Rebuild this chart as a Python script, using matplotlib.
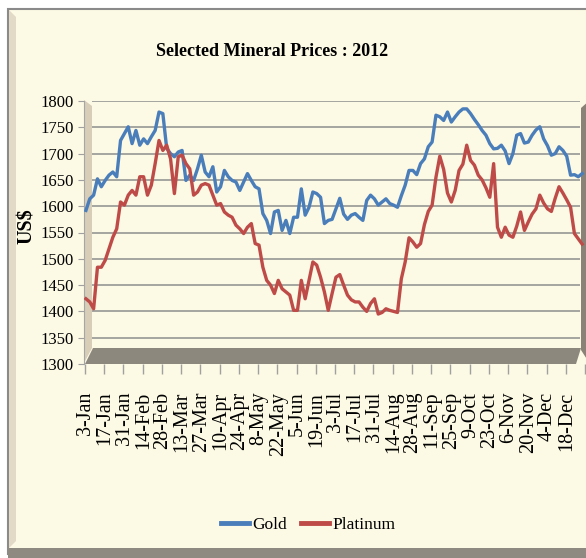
import numpy as np
import matplotlib
matplotlib.use("Agg")
import matplotlib.pyplot as plt
from matplotlib.patches import Polygon, Rectangle
from matplotlib.lines import Line2D

# trading-day index counted from 3-Jan-2012 (weekdays), sampled every 2nd day
day = np.arange(0, 260, 2)

gold = [1592, 1614, 1621, 1652, 1637, 1649, 1659, 1665, 1656, 1725,
        1738, 1751, 1719, 1744, 1716, 1728, 1719, 1732, 1744, 1779,
        1776, 1710, 1700, 1694, 1703, 1706, 1649, 1659, 1649, 1671,
        1697, 1665, 1656, 1675, 1627, 1637, 1668, 1656, 1649, 1646,
        1630, 1646, 1662, 1649, 1637, 1633, 1586, 1573, 1548, 1589,
        1592, 1554, 1573, 1548, 1579, 1579, 1633, 1583, 1598, 1627,
        1624, 1617, 1567, 1573, 1575, 1595, 1615, 1585, 1575, 1583,
        1586, 1579, 1573, 1611, 1621, 1614, 1602, 1608, 1614, 1605,
        1602, 1598, 1620, 1640, 1668, 1668, 1660, 1681, 1690, 1713,
        1722, 1773, 1770, 1763, 1779, 1760, 1770, 1779, 1785, 1785,
        1776, 1765, 1755, 1744, 1735, 1719, 1709, 1710, 1716, 1705,
        1681, 1700, 1735, 1738, 1720, 1722, 1735, 1745, 1751, 1728,
        1715, 1697, 1700, 1713, 1706, 1695, 1659, 1660, 1656, 1662]

platinum = [1424, 1418, 1405, 1484, 1484, 1497, 1519, 1541, 1557, 1608,
            1602, 1621, 1630, 1621, 1656, 1656, 1621, 1640, 1681, 1725,
            1706, 1716, 1690, 1624, 1694, 1697, 1681, 1671, 1621, 1627,
            1640, 1643, 1640, 1621, 1602, 1605, 1589, 1583, 1579, 1564,
            1557, 1548, 1560, 1567, 1529, 1526, 1484, 1459, 1450, 1434,
            1459, 1443, 1437, 1431, 1402, 1402, 1459, 1424, 1459, 1494,
            1488, 1465, 1437, 1402, 1434, 1465, 1470, 1450, 1431, 1422,
            1418, 1418, 1408, 1400, 1415, 1424, 1395, 1398, 1405, 1402,
            1400, 1398, 1462, 1494, 1540, 1532, 1522, 1529, 1565, 1590,
            1602, 1655, 1695, 1670, 1625, 1608, 1630, 1668, 1680, 1716,
            1687, 1678, 1659, 1650, 1635, 1617, 1681, 1560, 1541, 1560,
            1545, 1541, 1562, 1589, 1554, 1570, 1585, 1595, 1621, 1606,
            1595, 1590, 1615, 1637, 1625, 1612, 1598, 1548, 1538, 1528]

date_labels = ["3-Jan", "17-Jan", "31-Jan", "14-Feb", "28-Feb", "13-Mar",
               "27-Mar", "10-Apr", "24-Apr", "8-May", "22-May", "5-Jun",
               "19-Jun", "3-Jul", "17-Jul", "31-Jul", "14-Aug", "28-Aug",
               "11-Sep", "25-Sep", "9-Oct", "23-Oct", "6-Nov", "20-Nov",
               "4-Dec", "18-Dec"]

SERIF = "Liberation Serif"
BLUE = "#4A7EBB"
RED = "#BE4B48"
CREAM = "#FCF9E4"

W, H = 586, 558
fig = plt.figure(figsize=(W / 100, H / 100), dpi=100)
fig.patch.set_facecolor("white")

# background layer in pixel units: chart frame, 3-D walls and floor
bg = fig.add_axes([0, 0, 1, 1])
bg.set_xlim(0, W)
bg.set_ylim(H, 0)
bg.axis("off")
bg.add_patch(Rectangle((8, 9), 600, 545, facecolor=CREAM, edgecolor="#8A8A8A", lw=1.5))
bg.add_patch(Polygon([(9, 10), (16, 17), (16, 541), (9, 548)], closed=True,
                     facecolor="#E2D9C6", edgecolor="none"))
bg.add_patch(Rectangle((8, 548), 600, 12, facecolor="#8E8A82", edgecolor="none"))
bg.add_patch(Polygon([(84, 100), (92, 106), (92, 348), (84, 363)], closed=True,
                     facecolor="#D8CDB6", edgecolor="none"))
bg.add_patch(Polygon([(85, 364), (93, 348), (581, 348), (576, 364)], closed=True,
                     facecolor="#8D887E", edgecolor="none"))
bg.add_patch(Polygon([(581, 108), (590, 100), (590, 364), (581, 350)], closed=True,
                     facecolor="#8A8276", edgecolor="none"))

bg.text(272, 52, "Selected Mineral Prices : 2012", ha="center", va="center",
        fontsize=13, fontweight="bold", family=SERIF)
bg.text(27, 226, "US$", ha="center", va="center", rotation=90,
        fontsize=14.5, fontweight="bold", family=SERIF)

# plotting axes
ax = fig.add_axes([84 / W, (H - 364) / H, 501 / W, 263 / H])
ax.patch.set_alpha(0)
ax.set_xlim(-1, 259.5)
ax.set_ylim(1300, 1800)

yticks = np.arange(1300, 1801, 50)
ax.hlines(yticks[1:], 3, 257, color="#8E8E8E", lw=1.1, zorder=1)

ax.plot(day, gold, color=BLUE, lw=2.4, zorder=3, solid_joinstyle="round")
ax.plot(day, platinum, color=RED, lw=2.4, zorder=3, solid_joinstyle="round")

ax.set_yticks(yticks)
ax.set_yticklabels([str(v) for v in yticks], family=SERIF, fontsize=12)
ax.tick_params(axis="y", length=4.5, color="#A0A0A0", pad=3)

ax.set_xticks(np.arange(0, 260, 10))
ax.set_xticklabels(date_labels, rotation=90, family=SERIF, fontsize=14.5)
ax.set_xticks(np.arange(-0.5, 260, 10), minor=True)
ax.tick_params(axis="x", which="major", length=0, pad=20)
ax.tick_params(axis="x", which="minor", length=7, color="#A0A0A0", width=1)

for side in ("top", "right", "bottom"):
    ax.spines[side].set_visible(False)
ax.spines["left"].set_color("#A6A6A6")

handles = [Line2D([], [], color=BLUE, lw=3.5), Line2D([], [], color=RED, lw=3.5)]
fig.legend(handles, ["Gold", "Platinum"], loc="center",
           bbox_to_anchor=(308 / W, 1 - 525 / H), ncol=2, frameon=False,
           prop={"family": SERIF, "size": 12.5}, handlelength=1.6,
           handletextpad=0.2, columnspacing=0.8)

fig.savefig("out.png", dpi=100, facecolor=fig.get_facecolor())
